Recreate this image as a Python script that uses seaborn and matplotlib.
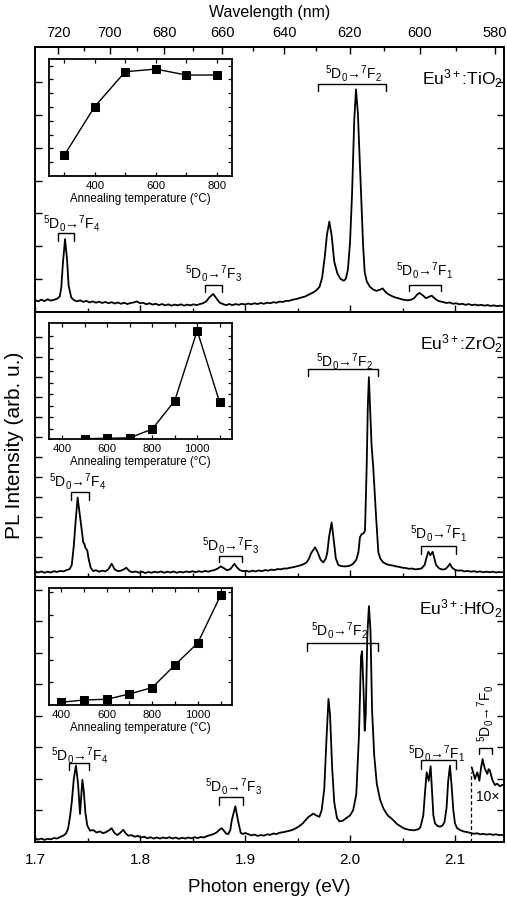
import numpy as np
import pandas as pd
import matplotlib
matplotlib.use("Agg")
import matplotlib.pyplot as plt
import seaborn as sns
from matplotlib.ticker import MultipleLocator, FixedLocator, FormatStrFormatter

# ---------------- data ----------------
# Eu3+:TiO2 spectrum (photon energy eV, relative intensity)
tio2_ev = [1.700, 1.703, 1.706, 1.709, 1.712, 1.715, 1.718, 1.721, 1.7235, 1.725, 1.7265, 1.7286,
           1.7305, 1.732, 1.7345, 1.737, 1.740, 1.743, 1.746, 1.749, 1.752, 1.755, 1.758, 1.761,
           1.764, 1.767, 1.770, 1.773, 1.776, 1.779, 1.782, 1.785, 1.788, 1.791, 1.794, 1.797,
           1.800, 1.803, 1.806, 1.809, 1.812, 1.815, 1.818, 1.821, 1.824, 1.827, 1.830, 1.833,
           1.836, 1.839, 1.842, 1.845, 1.848, 1.851, 1.854, 1.857, 1.860, 1.863, 1.866, 1.8698,
           1.873, 1.876, 1.879, 1.882, 1.885, 1.888, 1.891, 1.894, 1.897, 1.900, 1.903, 1.906,
           1.909, 1.912, 1.915, 1.918, 1.921, 1.924, 1.927, 1.930, 1.933, 1.936, 1.939, 1.942,
           1.945, 1.949, 1.953, 1.957, 1.961, 1.965, 1.968, 1.971, 1.9735, 1.976, 1.978, 1.9803,
           1.9825, 1.985, 1.988, 1.991, 1.994, 1.996, 1.998, 2.000, 2.002, 2.004, 2.0057, 2.0075,
           2.0095, 2.011, 2.0125, 2.014, 2.016, 2.019, 2.022, 2.025, 2.028, 2.031, 2.034, 2.037,
           2.040, 2.043, 2.046, 2.049, 2.052, 2.055, 2.058, 2.061, 2.064, 2.066, 2.069, 2.0724,
           2.075, 2.0778, 2.081, 2.084, 2.0889, 2.092, 2.095, 2.098, 2.101, 2.104, 2.107, 2.110,
           2.113, 2.116, 2.119, 2.122, 2.125, 2.128, 2.131, 2.134, 2.137, 2.140, 2.143, 2.147]
tio2_int = [0.045, 0.040, 0.047, 0.041, 0.048, 0.043, 0.046, 0.050, 0.058, 0.090, 0.180, 0.275,
            0.200, 0.100, 0.055, 0.045, 0.040, 0.044, 0.038, 0.042, 0.036, 0.040, 0.035, 0.039,
            0.034, 0.038, 0.033, 0.037, 0.032, 0.036, 0.031, 0.035, 0.030, 0.034, 0.036, 0.040,
            0.033, 0.035, 0.029, 0.033, 0.028, 0.031, 0.026, 0.030, 0.025, 0.029, 0.024, 0.028,
            0.025, 0.029, 0.024, 0.028, 0.025, 0.029, 0.026, 0.030, 0.033, 0.040, 0.055, 0.068,
            0.050, 0.035, 0.030, 0.026, 0.030, 0.026, 0.030, 0.027, 0.031, 0.028, 0.032, 0.029,
            0.033, 0.030, 0.034, 0.031, 0.035, 0.033, 0.037, 0.035, 0.039, 0.038, 0.042, 0.042,
            0.046, 0.049, 0.054, 0.058, 0.066, 0.074, 0.082, 0.095, 0.130, 0.210, 0.290, 0.341,
            0.290, 0.190, 0.145, 0.125, 0.118, 0.125, 0.160, 0.260, 0.450, 0.720, 0.840, 0.750,
            0.550, 0.400, 0.250, 0.150, 0.115, 0.095, 0.085, 0.080, 0.083, 0.089, 0.075, 0.066,
            0.060, 0.055, 0.052, 0.048, 0.046, 0.044, 0.046, 0.052, 0.066, 0.072, 0.064, 0.052,
            0.057, 0.062, 0.050, 0.042, 0.037, 0.034, 0.036, 0.031, 0.033, 0.029, 0.031, 0.027,
            0.030, 0.026, 0.028, 0.025, 0.027, 0.024, 0.026, 0.023, 0.025, 0.022, 0.024, 0.022]

# Eu3+:ZrO2 spectrum
zro2_ev = [1.700, 1.703, 1.706, 1.709, 1.712, 1.715, 1.718, 1.721, 1.724, 1.727, 1.730, 1.733,
           1.735, 1.737, 1.7385, 1.7406, 1.7425, 1.7444, 1.746, 1.747, 1.748, 1.7498, 1.751, 1.753,
           1.7556, 1.758, 1.761, 1.764, 1.767, 1.770, 1.773, 1.776, 1.779, 1.782, 1.785, 1.787,
           1.790, 1.793, 1.796, 1.799, 1.802, 1.805, 1.808, 1.811, 1.814, 1.817, 1.820, 1.823,
           1.826, 1.829, 1.832, 1.835, 1.838, 1.841, 1.844, 1.847, 1.850, 1.853, 1.856, 1.859,
           1.862, 1.865, 1.868, 1.871, 1.874, 1.877, 1.880, 1.883, 1.886, 1.8885, 1.890, 1.892,
           1.895, 1.898, 1.901, 1.904, 1.907, 1.910, 1.913, 1.916, 1.919, 1.922, 1.925, 1.928,
           1.931, 1.934, 1.937, 1.940, 1.943, 1.946, 1.949, 1.952, 1.955, 1.9587, 1.961, 1.963,
           1.9667, 1.969, 1.972, 1.9746, 1.977, 1.9784, 1.980, 1.9825, 1.9845, 1.9865, 1.9889, 1.992,
           1.995, 1.998, 2.000, 2.003, 2.006, 2.008, 2.0095, 2.0111, 2.013, 2.0143, 2.0159, 2.017,
           2.018, 2.019, 2.0205, 2.0222, 2.0248, 2.027, 2.029, 2.0317, 2.035, 2.038, 2.041, 2.044,
           2.047, 2.050, 2.053, 2.056, 2.059, 2.062, 2.065, 2.068, 2.071, 2.073, 2.0746, 2.0765,
           2.0787, 2.080, 2.082, 2.085, 2.088, 2.091, 2.093, 2.0952, 2.097, 2.100, 2.103, 2.106,
           2.109, 2.112, 2.115, 2.118, 2.121, 2.124, 2.127, 2.130, 2.133, 2.136, 2.139, 2.142, 2.147]
zro2_int = [0.022, 0.017, 0.021, 0.016, 0.020, 0.017, 0.022, 0.019, 0.023, 0.021, 0.026, 0.030,
            0.045, 0.120, 0.200, 0.300, 0.240, 0.180, 0.130, 0.125, 0.110, 0.100, 0.070, 0.035,
            0.022, 0.026, 0.020, 0.024, 0.021, 0.030, 0.050, 0.028, 0.022, 0.024, 0.030, 0.035,
            0.022, 0.018, 0.021, 0.016, 0.020, 0.015, 0.019, 0.016, 0.020, 0.017, 0.021, 0.016,
            0.020, 0.017, 0.021, 0.016, 0.020, 0.017, 0.021, 0.018, 0.022, 0.018, 0.022, 0.019,
            0.023, 0.020, 0.024, 0.026, 0.032, 0.040, 0.033, 0.025, 0.030, 0.042, 0.050, 0.038,
            0.026, 0.022, 0.024, 0.020, 0.024, 0.021, 0.025, 0.022, 0.026, 0.024, 0.028, 0.026,
            0.030, 0.029, 0.032, 0.032, 0.035, 0.037, 0.040, 0.043, 0.047, 0.055, 0.070, 0.090,
            0.112, 0.095, 0.065, 0.055, 0.070, 0.093, 0.150, 0.206, 0.140, 0.070, 0.045, 0.041,
            0.040, 0.041, 0.043, 0.050, 0.065, 0.093, 0.150, 0.162, 0.165, 0.175, 0.420, 0.650,
            0.754, 0.650, 0.500, 0.410, 0.230, 0.093, 0.068, 0.055, 0.048, 0.045, 0.043, 0.040,
            0.038, 0.035, 0.034, 0.031, 0.032, 0.029, 0.030, 0.032, 0.045, 0.075, 0.095, 0.082,
            0.095, 0.075, 0.045, 0.032, 0.028, 0.030, 0.038, 0.050, 0.036, 0.027, 0.024, 0.025,
            0.021, 0.023, 0.020, 0.022, 0.019, 0.021, 0.018, 0.020, 0.018, 0.020, 0.017, 0.019, 0.017]

# Eu3+:HfO2 spectrum
hfo2_ev = [1.700, 1.703, 1.706, 1.709, 1.712, 1.715, 1.718, 1.721, 1.724, 1.727, 1.7295, 1.7315,
           1.7335, 1.735, 1.737, 1.739, 1.741, 1.7429, 1.744, 1.7451, 1.7465, 1.748, 1.7498, 1.7524,
           1.7556, 1.7585, 1.7619, 1.765, 1.768, 1.7705, 1.773, 1.7755, 1.7784, 1.781, 1.7841, 1.7865,
           1.7889, 1.792, 1.795, 1.798, 1.801, 1.804, 1.807, 1.810, 1.813, 1.816, 1.819, 1.822,
           1.825, 1.828, 1.831, 1.834, 1.837, 1.840, 1.843, 1.846, 1.849, 1.852, 1.855, 1.858,
           1.861, 1.8635, 1.867, 1.870, 1.873, 1.8755, 1.8778, 1.880, 1.882, 1.8841, 1.886, 1.8873,
           1.8908, 1.8937, 1.8959, 1.898, 1.900, 1.903, 1.906, 1.909, 1.912, 1.915, 1.918, 1.921,
           1.924, 1.927, 1.930, 1.933, 1.9365, 1.940, 1.943, 1.946, 1.949, 1.9524, 1.955, 1.958,
           1.9603, 1.9651, 1.968, 1.9708, 1.973, 1.9755, 1.9775, 1.9795, 1.981, 1.983, 1.985, 1.9876,
           1.990, 1.993, 1.997, 2.000, 2.003, 2.006, 2.0085, 2.0105, 2.0115, 2.013, 2.014, 2.015,
           2.0165, 2.018, 2.0195, 2.021, 2.023, 2.0255, 2.0286, 2.032, 2.036, 2.040, 2.045, 2.051,
           2.056, 2.061, 2.065, 2.067, 2.0698, 2.0715, 2.073, 2.075, 2.0768, 2.078, 2.0794, 2.081,
           2.0835, 2.0857, 2.088, 2.090, 2.092, 2.0935, 2.0952, 2.097, 2.0984, 2.100, 2.102, 2.105,
           2.108, 2.111, 2.1152, 2.118, 2.121, 2.124, 2.127, 2.130, 2.133, 2.136, 2.139, 2.142, 2.147]
hfo2_int = [0.014, 0.009, 0.013, 0.008, 0.012, 0.010, 0.015, 0.013, 0.019, 0.024, 0.032, 0.050,
            0.100, 0.150, 0.240, 0.288, 0.220, 0.106, 0.170, 0.235, 0.190, 0.110, 0.062, 0.043,
            0.045, 0.036, 0.040, 0.033, 0.038, 0.044, 0.052, 0.035, 0.026, 0.034, 0.046, 0.032,
            0.024, 0.026, 0.020, 0.023, 0.017, 0.020, 0.014, 0.018, 0.013, 0.017, 0.013, 0.017,
            0.014, 0.018, 0.013, 0.017, 0.012, 0.016, 0.013, 0.017, 0.014, 0.018, 0.015, 0.019,
            0.017, 0.022, 0.026, 0.030, 0.036, 0.046, 0.052, 0.042, 0.032, 0.030, 0.045, 0.080,
            0.135, 0.074, 0.035, 0.030, 0.034, 0.030, 0.025, 0.028, 0.023, 0.026, 0.024, 0.029,
            0.027, 0.032, 0.030, 0.035, 0.037, 0.040, 0.043, 0.047, 0.053, 0.062, 0.070, 0.084,
            0.094, 0.107, 0.100, 0.095, 0.120, 0.200, 0.380, 0.540, 0.480, 0.280, 0.150, 0.090,
            0.078, 0.080, 0.092, 0.100, 0.120, 0.180, 0.400, 0.700, 0.720, 0.560, 0.420, 0.480,
            0.780, 0.890, 0.800, 0.500, 0.330, 0.220, 0.160, 0.125, 0.100, 0.087, 0.067, 0.052,
            0.046, 0.044, 0.048, 0.055, 0.100, 0.190, 0.263, 0.231, 0.286, 0.200, 0.100, 0.070,
            0.060, 0.058, 0.062, 0.075, 0.130, 0.230, 0.288, 0.200, 0.120, 0.070, 0.052, 0.045,
            0.040, 0.038, 0.034, 0.031, 0.033, 0.029, 0.031, 0.028, 0.030, 0.027, 0.029, 0.026, 0.027]

# 5D0->7F0 region of HfO2, magnified 10x
hfo2_f0_ev = [2.1159, 2.1175, 2.119, 2.120, 2.1213, 2.1232, 2.125, 2.1263, 2.1275, 2.1286,
              2.1308, 2.132, 2.1333, 2.1355, 2.138, 2.140, 2.1429, 2.145, 2.147]
hfo2_f0_int = [0.282, 0.260, 0.238, 0.250, 0.263, 0.231, 0.285, 0.313, 0.290, 0.275,
               0.257, 0.275, 0.269, 0.235, 0.215, 0.220, 0.210, 0.216, 0.213]

# Insets: integrated PL vs annealing temperature (relative)
tio2_temp = [300, 400, 500, 600, 700, 800]
tio2_pl = [0.177, 0.594, 0.891, 0.914, 0.863, 0.863]
zro2_temp = [500, 600, 700, 800, 900, 1000, 1100]
zro2_pl = [0.003, 0.006, 0.010, 0.086, 0.330, 0.934, 0.316]
hfo2_temp = [400, 500, 600, 700, 800, 900, 1000, 1100]
hfo2_pl = [0.023, 0.043, 0.049, 0.094, 0.149, 0.343, 0.531, 0.937]

energy_ticks = [1.7, 1.8, 1.9, 2.0, 2.1]
wavelength_ticks = [580, 600, 620, 640, 660, 680, 700, 720]
wavelength_minor = [590, 610, 630, 650, 670, 690, 710]

# ---------------- style ----------------
sns.set_theme(style="ticks")
plt.rcParams["font.family"] = ["Liberation Sans", "DejaVu Sans"]
plt.rcParams["mathtext.fontset"] = "custom"
plt.rcParams["mathtext.rm"] = "Liberation Sans"
plt.rcParams["mathtext.it"] = "Liberation Sans:italic"
plt.rcParams["mathtext.bf"] = "Liberation Sans:bold"
for k in ["axes.edgecolor", "xtick.color", "ytick.color", "text.color", "axes.labelcolor"]:
    plt.rcParams[k] = "black"

W, H = 507, 903
fig = plt.figure(figsize=(W / 100, H / 100), dpi=100)

def fx(px):
    return px / W

def fy(px_top, px_bottom):
    return (H - px_bottom) / H, (px_bottom - px_top) / H

left, right = 35, 504
xlim = (1.7, 1.7 + (right - left) / 1050.0)

panel_px = [(48, 313), (313, 578), (578, 843)]
inset_px = [(60, 177), (324, 440), (589, 706)]
ytick_sets = [
    [0.124 * k for k in range(1, 8)],
    [0.0755 * k for k in range(1, 13)],
    [0.119 * k for k in range(1, 9)],
]

axes = []
for (t, b), yt in zip(panel_px, ytick_sets):
    y0, h = fy(t, b)
    ax = fig.add_axes([fx(left), y0, fx(right - left), h])
    ax.set_xlim(*xlim)
    ax.set_ylim(0, 1)
    ax.xaxis.set_major_locator(FixedLocator(energy_ticks))
    ax.xaxis.set_minor_locator(MultipleLocator(0.05))
    ax.set_yticks(yt)
    ax.tick_params(axis="both", which="both", direction="in", top=False, right=True,
                   left=True, bottom=True, labelleft=False, labelbottom=False)
    ax.tick_params(which="major", length=5, width=1.0)
    ax.tick_params(which="minor", length=3, width=1.0)
    for s in ax.spines.values():
        s.set_linewidth(1.4)
        s.set_color("black")
    axes.append(ax)

ax_t, ax_m, ax_b = axes

spec_kw = dict(color="black", linewidth=1.3, estimator=None, sort=False, legend=False)
sns.lineplot(x=tio2_ev, y=tio2_int, ax=ax_t, **spec_kw)
sns.lineplot(x=zro2_ev, y=zro2_int, ax=ax_m, **spec_kw)
sns.lineplot(x=hfo2_ev, y=hfo2_int, ax=ax_b, **spec_kw)
sns.lineplot(x=hfo2_f0_ev, y=hfo2_f0_int, ax=ax_b, **spec_kw)
for ax in axes:
    ax.set_xlabel("")
    ax.set_ylabel("")
    for ln in ax.lines:
        ln.set_solid_joinstyle("round")

# bottom axis labels
ax_b.tick_params(labelbottom=True, labelsize=11, pad=7)
ax_b.xaxis.set_major_formatter(FormatStrFormatter("%.1f"))
fig.text(fx((left + right) / 2), 1 - 888 / H, "Photon energy (eV)",
         ha="center", va="center", fontsize=13.5)

# top wavelength axis
def ev2nm(e):
    e = np.asarray(e, dtype=float)
    with np.errstate(divide="ignore", invalid="ignore"):
        return 1239.84 / e

sec = ax_t.secondary_xaxis("top", functions=(ev2nm, ev2nm))
sec.xaxis.set_major_locator(FixedLocator(wavelength_ticks))
sec.xaxis.set_minor_locator(FixedLocator(wavelength_minor))
sec.tick_params(axis="x", which="both", direction="in", labelsize=10.5, pad=6)
sec.tick_params(which="major", length=5, width=1.0)
sec.tick_params(which="minor", length=3, width=1.0)
sec.spines["top"].set_linewidth(1.4)
sec.set_xlabel("Wavelength (nm)", fontsize=11.5, labelpad=6)

fig.text(fx(15), 1 - 445.5 / H, "PL Intensity (arb. u.)", rotation=90,
         ha="center", va="center", fontsize=15)

# annotations
FS = 10

def trans(ax, label, xc, yt, x0, x1, yb, leg):
    ax.plot([x0, x0, x1, x1], [yb - leg, yb, yb, yb - leg], color="black", lw=1.0)
    ax.text(xc, yt, label, ha="center", va="center", fontsize=FS)

def lab(n):
    return r"$^{5}$D$_{0}$→$^{7}$F$_{%d}$" % n

trans(ax_t, lab(4), 1.7350, 0.338, 1.7216, 1.7371, 0.298, 0.029)
trans(ax_t, lab(3), 1.8698, 0.150, 1.8619, 1.8778, 0.102, 0.028)
trans(ax_t, lab(2), 2.0032, 0.905, 1.9692, 2.0343, 0.860, 0.025)
trans(ax_t, lab(1), 2.0714, 0.162, 2.0565, 2.0864, 0.102, 0.022)

trans(ax_m, lab(4), 1.7410, 0.363, 1.7340, 1.7517, 0.320, 0.030)
trans(ax_m, lab(3), 1.8860, 0.122, 1.8750, 1.8970, 0.080, 0.025)
trans(ax_m, lab(2), 1.9952, 0.816, 1.9603, 2.0270, 0.785, 0.028)
trans(ax_m, lab(1), 2.0841, 0.169, 2.0673, 2.1006, 0.118, 0.030)

trans(ax_b, lab(4), 1.7430, 0.332, 1.7324, 1.7517, 0.300, 0.027)
trans(ax_b, lab(3), 1.8889, 0.212, 1.8752, 1.8984, 0.168, 0.028)
trans(ax_b, lab(2), 1.9905, 0.800, 1.9590, 2.0267, 0.750, 0.030)
trans(ax_b, lab(1), 2.0825, 0.338, 2.0673, 2.1010, 0.309, 0.034)
ax_b.plot([2.1229, 2.1229, 2.1349, 2.1349], [0.332, 0.353, 0.353, 0.332], color="black", lw=1.0)
ax_b.text(2.1286, 0.49, lab(0), rotation=90, ha="center", va="center", fontsize=FS)
ax_b.plot([2.1152, 2.1152], [0.0, 0.263], color="black", lw=0.9, ls=(0, (3, 2)))
ax_b.text(2.1314, 0.175, "10×", ha="center", va="center", fontsize=FS)

for ax, name in zip(axes, [r"Eu$^{3+}$:TiO$_2$", r"Eu$^{3+}$:ZrO$_2$", r"Eu$^{3+}$:HfO$_2$"]):
    ax.text(2.1455, 0.886, name, ha="right", va="center", fontsize=12.5)

# insets
inset_specs = [
    (tio2_temp, tio2_pl, (250, 850), [300, 400, 500, 600, 700, 800], [400, 600, 800],
     [0.118 * k for k in range(1, 9)]),
    (zro2_temp, zro2_pl, (340, 1155), [400, 500, 600, 700, 800, 900, 1000, 1100], [400, 600, 800, 1000],
     [0.086 + 0.1 * k for k in range(0, 9)]),
    (hfo2_temp, hfo2_pl, (347, 1150), [400, 500, 600, 700, 800, 900, 1000, 1100], [400, 600, 800, 1000],
     [0.193 * k for k in range(1, 6)]),
]
for (t, b), (tx, py, xl, xt, xlab, yt) in zip(inset_px, inset_specs):
    y0, h = fy(t, b)
    ia = fig.add_axes([fx(49), y0, fx(232 - 49), h])
    sns.lineplot(x=tx, y=py, ax=ia, color="black", linewidth=1.0, marker="s",
                 markersize=5.5, markeredgecolor="black", markerfacecolor="black",
                 estimator=None, sort=False, legend=False)
    ia.set_xlim(*xl)
    ia.set_ylim(0, 1)
    ia.set_xticks(xt)
    ia.set_xticklabels([str(v) if v in xlab else "" for v in xt])
    ia.set_yticks(yt)
    ia.tick_params(axis="both", which="both", direction="in", top=True, right=True,
                   labelleft=False, labelsize=8.2, length=3, width=0.9, pad=3)
    for s in ia.spines.values():
        s.set_linewidth(1.3)
        s.set_color("black")
    ia.set_ylabel("")
    ia.set_xlabel("Annealing temperature (°C)", fontsize=8.3, labelpad=1)

fig.savefig("out.png", dpi=100)
